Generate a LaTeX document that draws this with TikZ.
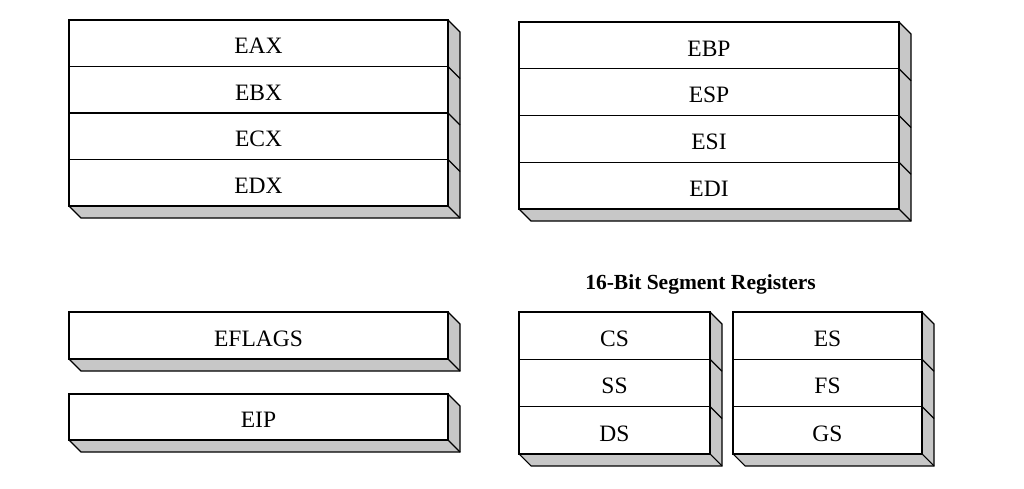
\documentclass[tikz,border=0pt]{standalone}
\usepackage{fontspec}
\setmainfont{Liberation Serif}
\usetikzlibrary{positioning, calc}

\begin{document}
\begin{tikzpicture}[
  x=1pt, y=-1pt,
  every node/.style={font=\fontsize{23.5}{27}\selectfont},
  regrow/.style={draw, line width=1.2pt, fill=white, inner sep=0pt, outer sep=0pt, anchor=north,
    text height=21.5pt, text depth=0pt},
  facegray/.style={fill=black!22}
]
\useasboundingbox (0,0) rectangle (1024,489);

% General-purpose registers
\foreach \name/\txt [count=\i] in {eax/EAX, ebx/EBX, ecx/ECX, edx/EDX}
  \node[regrow, minimum width=379pt, minimum height=46.5pt] (\name) at (258.5,{20+46.5*(\i-1)}) {\txt};
\foreach \name/\txt [count=\i] in {ebp/EBP, esp/ESP, esi/ESI, edi/EDI}
  \node[regrow, minimum width=380pt, minimum height=46.75pt] (\name) at (709,{22+46.75*(\i-1)}) {\txt};

% Flags and instruction pointer
\node[regrow, minimum width=379pt, minimum height=47pt] (eflags) at (258.5,312) {EFLAGS};
\node[regrow, minimum width=379pt, minimum height=46pt] (eip) at (258.5,394) {EIP};

% Segment registers
\node[font=\fontsize{21.5}{24}\selectfont\bfseries] (segtitle) at (700.5,284) {16-Bit Segment Registers};
\foreach \name/\txt [count=\i] in {cs/CS, ss/SS, ds/DS}
  \node[regrow, minimum width=191pt, minimum height=47.3pt] (\name) at (614.5,{312+47.3*(\i-1)}) {\txt};
\foreach \name/\txt [count=\i] in {es/ES, fs/FS, gs/GS}
  \node[regrow, minimum width=189pt, minimum height=47.3pt] (\name) at (827.5,{312+47.3*(\i-1)}) {\txt};

% 3D side and bottom faces
\foreach \first/\last in {eax/edx, ebp/edi, eflags/eflags, eip/eip, cs/ds, es/gs} {
  \fill[facegray] (\first.north east) -- ++(12,12) -- ($(\last.south east)+(12,12)$)
    -- ($(\last.south west)+(12,12)$) -- (\last.south west) -- (\last.south east) -- cycle;
  \draw[line width=1.2pt, line join=miter] (\first.north east) -- ++(12,12) -- ($(\last.south east)+(12,12)$)
    -- ($(\last.south west)+(12,12)$) -- (\last.south west);
  \draw[line width=1.2pt] (\last.south east) -- ++(12,12);
}
\foreach \name in {ebx, ecx, edx, esp, esi, edi, ss, ds, fs, gs}
  \draw[line width=1.2pt] (\name.north east) -- ++(12,12);

% redraw fronts over the faces
\foreach \name in {eax, ebx, ecx, edx, ebp, esp, esi, edi, eflags, eip, cs, ss, ds, es, fs, gs}
  \draw[line width=1.2pt] (\name.north west) rectangle (\name.south east);

\end{tikzpicture}
\end{document}
